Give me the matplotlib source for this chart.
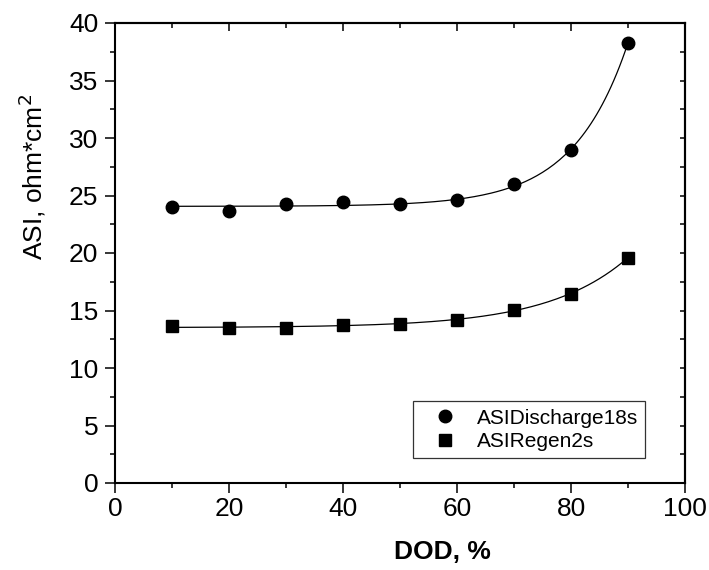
import numpy as np
import matplotlib
matplotlib.use("Agg")
import matplotlib.pyplot as plt
from matplotlib.ticker import MultipleLocator

plt.rcParams['font.family'] = ['Liberation Sans', 'DejaVu Sans']

dod = [10, 20, 30, 40, 50, 60, 70, 80, 90]
asi_discharge = [24.0, 23.68, 24.23, 24.41, 24.29, 24.58, 26.0, 28.93, 38.29]
asi_regen = [13.67, 13.50, 13.50, 13.73, 13.82, 14.19, 15.06, 16.47, 19.60]
series_labels = ["ASIDischarge18s", "ASIRegen2s"]


def exp_fit(x, y):
    x = np.asarray(x, float)
    y = np.asarray(y, float)
    best = None
    for t in np.linspace(3, 40, 741):
        M = np.column_stack([np.ones_like(x), np.exp(x / t)])
        coef, *_ = np.linalg.lstsq(M, y, rcond=None)
        err = np.sum((M @ coef - y) ** 2)
        if best is None or err < best[0]:
            best = (err, t, coef)
    _, t, coef = best
    xs = np.linspace(x.min(), x.max(), 161)
    return xs, coef[0] + coef[1] * np.exp(xs / t)


fig = plt.figure(figsize=(7.09, 5.70), dpi=100)
W, H = 709, 570
L, R, T, B = 115, 685, 23, 483
ax = fig.add_axes([L / W, 1 - B / H, (R - L) / W, (B - T) / H])

for yvals, mk, ms, lab in [(asi_discharge, 'o', 9, series_labels[0]),
                           (asi_regen, 's', 8, series_labels[1])]:
    xs, ys = exp_fit(dod, yvals)
    ax.plot(xs, ys, color='black', lw=0.9)
    ax.plot(dod, yvals, linestyle='none', marker=mk, ms=ms, color='black', label=lab)

ax.set_xlim(0, 100)
ax.set_ylim(0, 40)
ax.xaxis.set_major_locator(MultipleLocator(20))
ax.xaxis.set_minor_locator(MultipleLocator(10))
ax.yaxis.set_major_locator(MultipleLocator(5))
ax.yaxis.set_minor_locator(MultipleLocator(2.5))
ax.tick_params(which='both', direction='out', labelsize=19, width=1.1, top=False, right=False)
ax.tick_params(axis='x', pad=3)
ax.tick_params(axis='y', pad=5)
ax.tick_params(which='major', length=7)
ax.tick_params(which='minor', length=3.5)
for s in ax.spines.values():
    s.set_linewidth(1.5)

secx = ax.secondary_xaxis('top')
secx.xaxis.set_major_locator(MultipleLocator(20))
secx.xaxis.set_minor_locator(MultipleLocator(10))
secx.tick_params(which='both', direction='in', width=1.1, labelbottom=False, labeltop=False)
secx.tick_params(which='major', length=6)
secx.tick_params(which='minor', length=3.5)
secx.spines['top'].set_linewidth(1.5)

secy = ax.secondary_yaxis('right')
secy.yaxis.set_major_locator(MultipleLocator(5))
secy.yaxis.set_minor_locator(MultipleLocator(2.5))
secy.tick_params(which='both', direction='in', width=1.1, length=3.5, labelright=False, labelleft=False)
secy.spines['right'].set_linewidth(1.5)

ax.set_xlabel("DOD, %", fontsize=19, fontweight='bold')
ax.xaxis.set_label_coords(0.575, -0.124)
ax.set_ylabel("ASI, ohm*cm$^2$", fontsize=19)
ax.yaxis.set_label_coords(-0.117, 0.665)

leg = ax.legend(loc='lower right', bbox_to_anchor=(0.93, 0.054), fontsize=15,
                frameon=True, fancybox=False, edgecolor='black', handlelength=2.4,
                handletextpad=0.3, borderpad=0.35, labelspacing=0.2, borderaxespad=0)
leg.get_frame().set_linewidth(0.9)

fig.savefig("out.png", dpi=100)
